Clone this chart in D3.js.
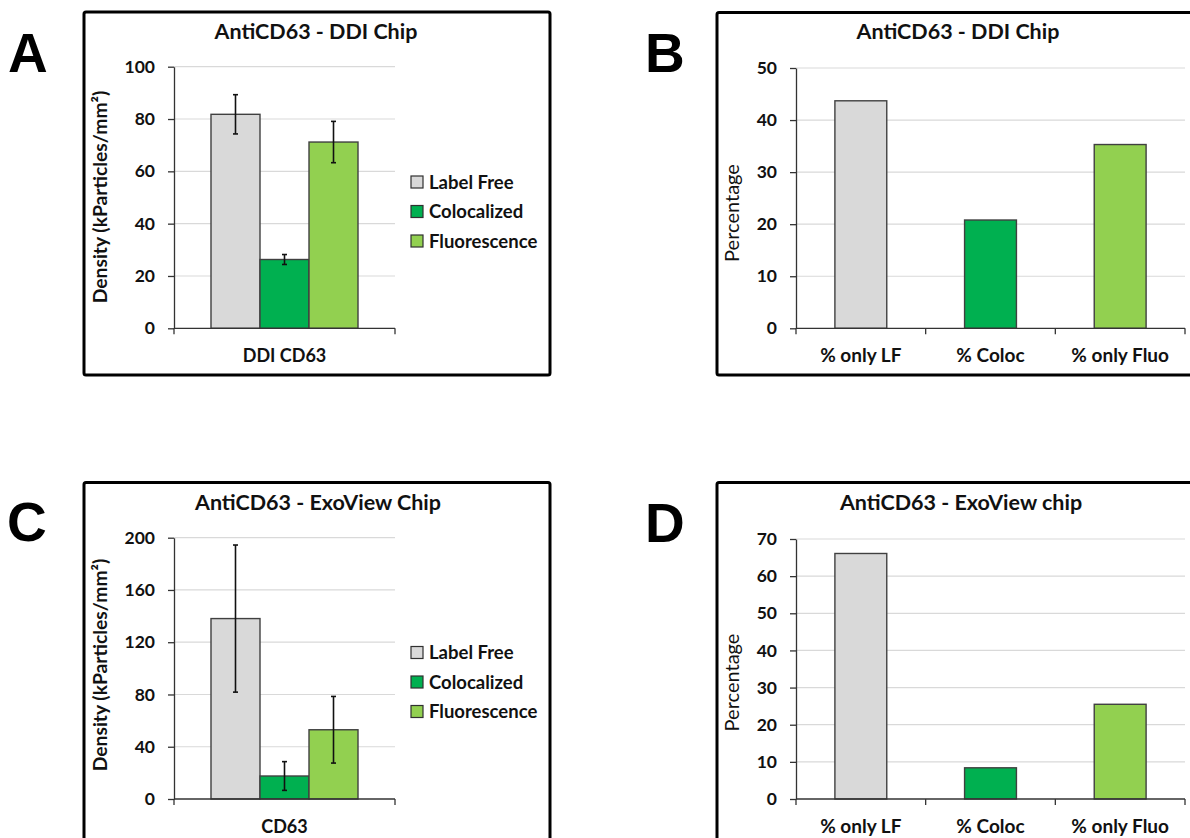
<!DOCTYPE html>
<html><head><meta charset="utf-8">
<script src="https://cdn.jsdelivr.net/npm/d3@7"></script>
<style>
body{margin:0;background:#fff}
svg{display:block}
text{font-family:Lato,"Open Sans",sans-serif;fill:#111}
</style>
</head><body>
<svg id="c" width="1190" height="838"></svg>
<script>
// ---------- data ----------
const seriesNames = ["Label Free", "Colocalized", "Fluorescence"];
const seriesColors = ["#d9d9d9", "#00b050", "#92d050"];

const categoryA = ["DDI CD63"];
const valuesA = [81.8, 26.3, 71.2];
const errorsA = [7.5, 1.9, 7.9];
const yTicksA = [0, 20, 40, 60, 80, 100];

const categoryC = ["CD63"];
const valuesC = [138.1, 17.6, 53.0];
const errorsC = [56.3, 11.0, 25.5];
const yTicksC = [0, 40, 80, 120, 160, 200];

const pctCategories = ["% only LF", "% Coloc", "% only Fluo"];
const valuesB = [43.7, 20.8, 35.3];
const yTicksB = [0, 10, 20, 30, 40, 50];
const valuesD = [66.1, 8.4, 25.5];
const yTicksD = [0, 10, 20, 30, 40, 50, 60, 70];

const densityLabel = "Density (kParticles/mm\u00B2)";
const pctLabel = "Percentage";

// ---------- drawing ----------
const svg = d3.select("#c");

function drawPanel(cfg) {
  const g = svg.append("g");
  // frame
  g.append("rect").attr("x", cfg.fx).attr("y", cfg.fy).attr("width", cfg.fw).attr("height", cfg.fh)
    .attr("fill", "none").attr("stroke", "#000").attr("stroke-width", 3).attr("rx", 2);
  // big letter
  g.append("text").attr("x", cfg.lx).attr("y", cfg.ly).text(cfg.letter)
    .style("font-family", "'Liberation Sans', Arial, sans-serif").style("font-weight", "bold")
    .style("font-size", "55px").style("fill", "#000");
  // title
  g.append("text").attr("x", cfg.tx).attr("y", cfg.ty).attr("text-anchor", "middle")
    .style("font-weight", "bold").style("font-size", "21.5px").text(cfg.title);

  const y = d3.scaleLinear().domain([0, d3.max(cfg.ticks)]).range([cfg.yb, cfg.yt]);
  const xOuter = d3.scaleBand().domain(cfg.categories).range([cfg.x0, cfg.x1])
    .paddingInner(cfg.grouped ? 0 : 0.6).paddingOuter(cfg.grouped ? 0 : 0.3);

  // gridlines
  g.append("g").selectAll("line").data(cfg.ticks.filter(t => t > 0)).join("line")
    .attr("x1", cfg.x0).attr("x2", cfg.x1).attr("y1", d => y(d)).attr("y2", d => y(d))
    .attr("stroke", "#d9d9d9").attr("stroke-width", 1.2);

  if (cfg.grouped) {
    const xInner = d3.scaleBand().domain(seriesNames).range([0, xOuter.bandwidth()])
      .paddingInner(0).paddingOuter(0.755);
    const data = seriesNames.map((s, i) => ({ s, i, v: cfg.values[i], e: cfg.errors[i] }));
    const cat = cfg.categories[0];
    g.append("g").selectAll("rect").data(data).join("rect")
      .attr("x", d => xOuter(cat) + xInner(d.s)).attr("width", xInner.bandwidth())
      .attr("y", d => y(d.v)).attr("height", d => y(0) - y(d.v))
      .attr("fill", d => seriesColors[d.i]).attr("stroke", "#404040").attr("stroke-width", 1.4);
    const eb = g.append("g").attr("stroke", "#111").attr("stroke-width", 1.6);
    data.forEach(d => {
      const cx = xOuter(cat) + xInner(d.s) + xInner.bandwidth() / 2;
      eb.append("line").attr("x1", cx).attr("x2", cx).attr("y1", y(d.v + d.e)).attr("y2", y(d.v - d.e));
      eb.append("line").attr("x1", cx - 2.5).attr("x2", cx + 2.5).attr("y1", y(d.v + d.e)).attr("y2", y(d.v + d.e));
      eb.append("line").attr("x1", cx - 2.5).attr("x2", cx + 2.5).attr("y1", y(d.v - d.e)).attr("y2", y(d.v - d.e));
    });
    // legend
    const lg = g.append("g");
    seriesNames.forEach((s, i) => {
      const ry = cfg.legY + i * cfg.legStep;
      lg.append("rect").attr("x", cfg.legX).attr("y", ry - 6).attr("width", 12).attr("height", 12)
        .attr("fill", seriesColors[i]).attr("stroke", "#303030").attr("stroke-width", 1.2);
      lg.append("text").attr("x", cfg.legX + 18).attr("y", ry).attr("dy", "0.36em")
        .style("font-weight", "bold").style("font-size", "18.5px").text(s);
    });
  } else {
    g.append("g").selectAll("rect").data(cfg.categories).join("rect")
      .attr("x", d => xOuter(d)).attr("width", xOuter.bandwidth())
      .attr("y", (d, i) => y(cfg.values[i])).attr("height", (d, i) => y(0) - y(cfg.values[i]))
      .attr("fill", (d, i) => seriesColors[i]).attr("stroke", "#404040").attr("stroke-width", 1.4);
  }

  // y axis
  const yAxis = d3.axisLeft(y).tickValues(cfg.ticks).tickSize(6).tickSizeOuter(0).tickPadding(13);
  const ya = g.append("g").attr("transform", `translate(${cfg.x0},0)`).call(yAxis);
  ya.selectAll("path, line").attr("stroke", "#333").attr("stroke-width", 1.3);
  ya.selectAll("text").style("font-family", "Lato, sans-serif").style("font-weight", "bold")
    .style("font-size", "17.5px").style("fill", "#111");

  // x axis
  const xa = g.append("g");
  xa.append("line").attr("x1", cfg.x0).attr("x2", cfg.x1).attr("y1", cfg.yb).attr("y2", cfg.yb)
    .attr("stroke", "#333").attr("stroke-width", 1.3);
  const step = xOuter.step();
  const bounds = d3.range(cfg.categories.length + 1).map(i => cfg.x0 + i * step);
  xa.selectAll("line.tk").data(bounds).join("line").attr("class", "tk")
    .attr("x1", d => d).attr("x2", d => d).attr("y1", cfg.yb).attr("y2", cfg.yb + 6)
    .attr("stroke", "#333").attr("stroke-width", 1.3);
  xa.selectAll("text").data(cfg.categories).join("text")
    .attr("x", d => xOuter(d) + xOuter.bandwidth() / 2).attr("y", cfg.yb + 33.5)
    .attr("text-anchor", "middle").style("font-weight", "bold").style("font-size", cfg.catSize).text(d => d);

  // y label
  g.append("text").attr("transform", `translate(${cfg.ylx},${cfg.yly}) rotate(-90)`)
    .attr("text-anchor", "middle").style("font-weight", cfg.ylBold ? "bold" : "normal")
    .style("font-size", cfg.ylSize).text(cfg.yLabel);
}

drawPanel({
  letter: "A", lx: 8, ly: 72, fx: 84, fy: 12, fw: 466, fh: 363,
  title: "AntiCD63 - DDI Chip", tx: 316, ty: 39,
  x0: 174, x1: 395, yt: 66.7, yb: 328.3, ticks: yTicksA,
  categories: categoryA, values: valuesA, errors: errorsA, grouped: true, catSize: "18px",
  legX: 411, legY: 182, legStep: 29.5,
  ylx: 107, yly: 197, yLabel: densityLabel, ylBold: true, ylSize: "19.3px"
});
drawPanel({
  letter: "B", lx: 645, ly: 72, fx: 717, fy: 12.5, fw: 500, fh: 362.5,
  title: "AntiCD63 - DDI Chip", tx: 958, ty: 39,
  x0: 796, x1: 1185, yt: 68, yb: 328.3, ticks: yTicksB,
  categories: pctCategories, values: valuesB, grouped: false, catSize: "19px",
  ylx: 738.5, yly: 213, yLabel: pctLabel, ylBold: false, ylSize: "20px"
});
drawPanel({
  letter: "C", lx: 7, ly: 541, fx: 84, fy: 482.5, fw: 466, fh: 400,
  title: "AntiCD63 - ExoView Chip", tx: 318, ty: 509.5,
  x0: 174, x1: 395, yt: 537.7, yb: 799, ticks: yTicksC,
  categories: categoryC, values: valuesC, errors: errorsC, grouped: true, catSize: "18px",
  legX: 411, legY: 652.5, legStep: 29.5,
  ylx: 107, yly: 665, yLabel: densityLabel, ylBold: true, ylSize: "19.3px"
});
drawPanel({
  letter: "D", lx: 645, ly: 542, fx: 717, fy: 482.5, fw: 500, fh: 400,
  title: "AntiCD63 - ExoView chip", tx: 961, ty: 509.5,
  x0: 796, x1: 1185, yt: 539, yb: 799, ticks: yTicksD,
  categories: pctCategories, values: valuesD, grouped: false, catSize: "19px",
  ylx: 738.5, yly: 682.5, yLabel: pctLabel, ylBold: false, ylSize: "20px"
});
</script>
</body></html>
